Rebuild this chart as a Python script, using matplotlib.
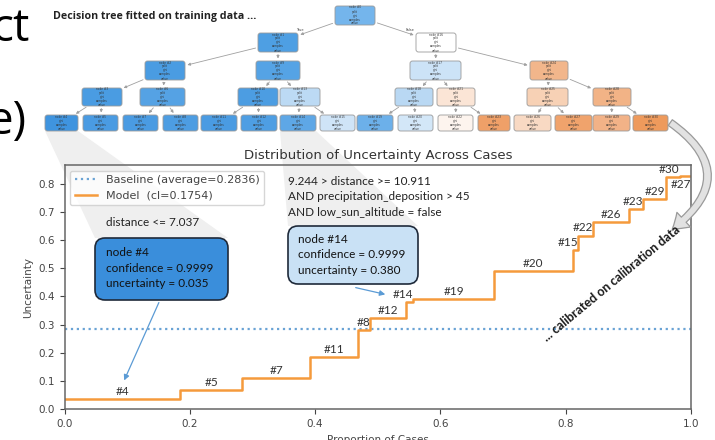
import matplotlib
matplotlib.use("Agg")
import matplotlib.pyplot as plt
from matplotlib.patches import FancyBboxPatch, FancyArrowPatch, Polygon

# step data
leaf_labels = ["#4", "#5", "#7", "#11", "#8", "#12", "#14", "#19", "#20",
               "#15", "#22", "#26", "#23", "#29", "#30", "#27"]
seg_edges = [0.0, 0.184, 0.284, 0.392, 0.469, 0.488, 0.545, 0.557, 0.686,
             0.811, 0.820, 0.844, 0.901, 0.924, 0.960, 0.982, 1.0]
uncertainty = [0.035, 0.067, 0.111, 0.186, 0.281, 0.322, 0.380, 0.390, 0.490,
               0.565, 0.616, 0.665, 0.709, 0.745, 0.822, 0.826]
baseline = 0.2836
cl_value = 0.1754
yticks = [0.0, 0.1, 0.2, 0.3, 0.4, 0.5, 0.6, 0.7, 0.8]
xticks = [0.0, 0.2, 0.4, 0.6, 0.8, 1.0]

# tree (node ids by level, left to right)
tree_levels = [[0], [1, 16], [2, 9, 17, 24], [3, 6, 10, 13, 18, 21, 25, 28],
               [4, 5, 7, 8, 11, 12, 14, 15, 19, 20, 22, 23, 26, 27, 29, 30]]
tree_children = {0: (1, 16), 1: (2, 9), 16: (17, 24), 2: (3, 6), 9: (10, 13),
                 17: (18, 21), 24: (25, 28), 3: (4, 5), 6: (7, 8), 10: (11, 12),
                 13: (14, 15), 18: (19, 20), 21: (22, 23), 25: (26, 27), 28: (29, 30)}

# layout of the tree picture (pixels)
level_y = [(6, 25), (33, 52), (61, 80), (88, 106), (115, 131)]
level_x = [[(335, 375)],
           [(258, 298), (416, 456)],
           [(145, 185), (256, 300), (410, 461), (530, 568)],
           [(82, 122), (140, 185), (238, 278), (280, 320), (395, 433), (437, 475), (527, 568), (593, 631)],
           [(45, 78), (83, 118), (123, 158), (163, 198), (201, 237), (241, 277), (280, 316), (320, 355),
            (357, 393), (398, 433), (438, 473), (478, 510), (514, 551), (555, 592), (593, 630), (633, 668)]]
node_colors = {0: "#74b5ec", 1: "#4e9fe3", 16: "#ffffff", 2: "#4a9ce2", 9: "#55a3e5",
               17: "#cce3f7", 24: "#f2b68b", 3: "#4a9ce2", 6: "#55a2e4", 10: "#4c9de2",
               13: "#bcdaf4", 18: "#b9d8f3", 21: "#fbe5d6", 25: "#f7d1b5", 28: "#f2b386",
               4: "#3f94df", 5: "#4a9be2", 7: "#4a9be2", 8: "#4d9de2", 11: "#4a9be2",
               12: "#4e9ee3", 14: "#5ea7e6", 15: "#cfe4f7", 19: "#6cb0ea", 20: "#d3e7f8",
               22: "#fdf4ee", 23: "#efa068", 26: "#f8d9c3", 27: "#f0a36c", 29: "#f2b287",
               30: "#ee9a5c"}

W, H = 715, 440
fig = plt.figure(figsize=(W / 100, H / 100), dpi=100)
fig.patch.set_facecolor("white")

bg = fig.add_axes([0, 0, 1, 1], zorder=0)
bg.set_xlim(0, W)
bg.set_ylim(H, 0)
bg.axis("off")

# slide text cut off on the left
bg.text(30, 41, "ct", fontsize=33, family="Open Sans", ha="right", va="baseline", color="black")
bg.text(27, 134, "e)", fontsize=33, family="Open Sans", ha="right", va="baseline", color="black")
bg.text(53, 16, "Decision tree fitted on training data ...", fontsize=7.7, family="Open Sans",
        weight="bold", ha="left", va="center", color="#222222")

# grey projection wedges
bg.add_patch(Polygon([(45, 131), (78, 131), (228, 238), (95, 238)], closed=True,
                     facecolor="#efefef", edgecolor="none", zorder=0))
bg.add_patch(Polygon([(280, 131), (316, 131), (418, 226), (288, 226)], closed=True,
                     facecolor="#efefef", edgecolor="none", zorder=0))

# tree boxes
boxes = {}
for lvl, ids in enumerate(tree_levels):
    y0, y1 = level_y[lvl]
    for nid, (x0, x1) in zip(ids, level_x[lvl]):
        b = FancyBboxPatch((x0, y0), x1 - x0, y1 - y0, boxstyle="round,pad=0,rounding_size=2.5",
                           facecolor=node_colors[nid], edgecolor="#9a9a9a", lw=0.6, zorder=3)
        bg.add_patch(b)
        boxes[nid] = b
        if lvl < 4:
            txt = "node #%d\nsplit\ngini\nsamples\nvalue" % nid
        else:
            txt = "node #%d\ngini\nsamples\nvalue" % nid
        bg.text((x0 + x1) / 2, (y0 + y1) / 2, txt, fontsize=2.1, ha="center", va="center",
                color="#333333", linespacing=1.0, zorder=4)

for parent, kids in tree_children.items():
    for k in kids:
        bp, bk = boxes[parent], boxes[k]
        pa = (bp.get_x() + bp.get_width() / 2, bp.get_y() + bp.get_height() / 2)
        pb = (bk.get_x() + bk.get_width() / 2, bk.get_y() + bk.get_height() / 2)
        bg.add_patch(FancyArrowPatch(pa, pb, patchA=bp, patchB=bk, arrowstyle="-|>",
                                     mutation_scale=4, color="#a0a0a0", lw=0.6, zorder=2))
bg.text(300, 30, "True", fontsize=2.5, ha="center", va="center", color="#444444")
bg.text(410, 30, "False", fontsize=2.5, ha="center", va="center", color="#444444")

# main chart
ax = fig.add_axes([64.5 / W, (H - 409.3) / H, 626.5 / W, 244.3 / H], zorder=1)
ax.patch.set_alpha(0)
xs = seg_edges
ys = uncertainty + [uncertainty[-1]]
ax.axhline(baseline, color="#6aa3d5", ls=":", lw=1.6,
           label="Baseline (average=%.4f)" % baseline)
ax.step(xs, ys, where="post", color="#f59a3c", lw=1.8, label="Model  (cl=%.4f)" % cl_value)

for i, lab in enumerate(leaf_labels):
    a, b = seg_edges[i], seg_edges[i + 1]
    if lab == "#27":
        ax.annotate(lab, (b, uncertainty[i]), xytext=(0, -2), textcoords="offset points",
                    ha="right", va="top", fontsize=8.5, family="Lato", color="#333333")
    elif b - a < 0.03:
        ax.annotate(lab, (b, uncertainty[i]), xytext=(0, 1.5), textcoords="offset points",
                    ha="right", va="bottom", fontsize=8.5, family="Lato", color="#333333")
    else:
        ax.annotate(lab, ((a + b) / 2, uncertainty[i]), xytext=(0, 1.5), textcoords="offset points",
                    ha="center", va="bottom", fontsize=8.5, family="Lato", color="#333333")

ax.set_xlim(0, 1)
ax.set_ylim(0, 0.866)
ax.set_xticks(xticks)
ax.set_yticks(yticks)
ax.tick_params(labelsize=7.5, colors="#444444")
for s in ax.spines.values():
    s.set_color("#666666")
    s.set_linewidth(1.1)
ax.set_title("Distribution of Uncertainty Across Cases", fontsize=9.5, color="#333333", pad=4)
ax.set_xlabel("Proportion of Cases", fontsize=7.5, color="#444444", labelpad=4)
ax.set_ylabel("Uncertainty", fontsize=7.5, color="#444444")
ax.legend(loc="upper left", fontsize=8, labelcolor="#444444")

# slide annotations (pixel coords in the overlay)
fg = fig.add_axes([0, 0, 1, 1], zorder=2)
fg.set_xlim(0, W)
fg.set_ylim(H, 0)
fg.axis("off")

fg.text(106, 223, "distance <= 7.037", fontsize=8.5, family="Lato", color="#222222", va="center")
fg.add_patch(FancyBboxPatch((95, 238), 133, 62, boxstyle="round,pad=0,rounding_size=10",
                            facecolor="#3a8edb", edgecolor="#1f2a3a", lw=1.2))
fg.text(106, 268, "node #4\nconfidence = 0.9999\nuncertainty = 0.035", fontsize=8.5,
        family="Lato", color="#111111", va="center", linespacing=1.45)
fg.annotate("", xy=(123, 383), xytext=(160, 300),
            arrowprops=dict(arrowstyle="-|>", color="#5b9bd5", lw=0.9, mutation_scale=8))

fg.text(288, 197, "9.244 > distance >= 10.911\nAND precipitation_deposition > 45\nAND low_sun_altitude = false",
        fontsize=8.5, family="Lato", color="#222222", va="center", linespacing=1.45)
fg.add_patch(FancyBboxPatch((288, 226), 130, 58, boxstyle="round,pad=0,rounding_size=10",
                            facecolor="#c9e1f5", edgecolor="#1f2a3a", lw=1.2))
fg.text(298, 255, "node #14\nconfidence = 0.9999\nuncertainty = 0.380", fontsize=8.5,
        family="Lato", color="#111111", va="center", linespacing=1.45)
fg.annotate("", xy=(388, 295), xytext=(353, 287),
            arrowprops=dict(arrowstyle="-|>", color="#5b9bd5", lw=0.9, mutation_scale=8))

fg.text(611, 283, "... calibrated on calibration data", fontsize=9, family="Lato", weight="bold",
        rotation=39.6, rotation_mode="anchor", ha="center", va="center", color="#1a1a1a")
fg.add_patch(FancyArrowPatch((668, 121), (670, 231), connectionstyle="arc3,rad=-0.7",
                             arrowstyle="simple,head_width=0.8,head_length=0.6,tail_width=0.28",
                             mutation_scale=18, facecolor="#e2e2e2", edgecolor="#9a9a9a", lw=0.9))

fig.savefig("out.png", dpi=100)
